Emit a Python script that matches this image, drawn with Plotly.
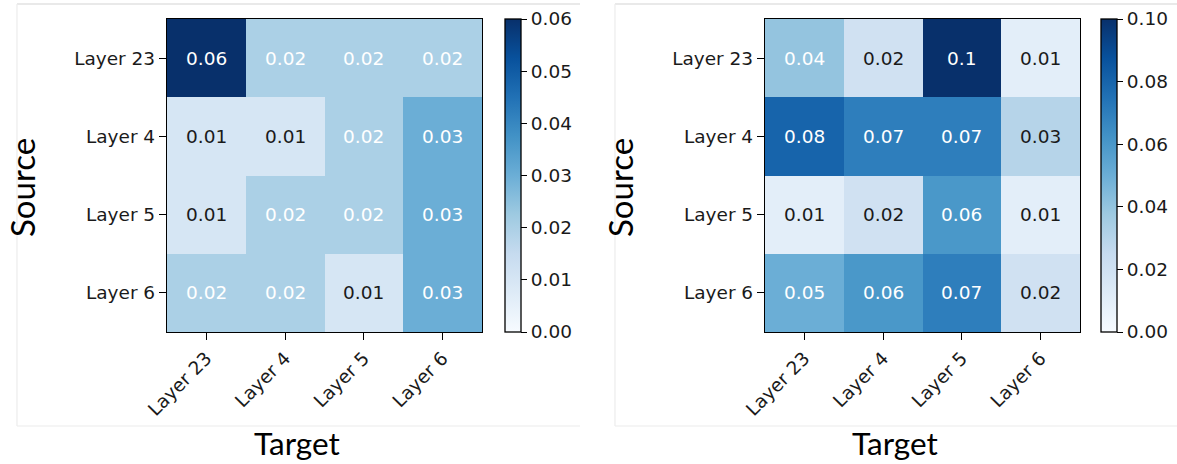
import plotly.graph_objects as go

# ---- data -------------------------------------------------------------
layers = ["Layer 23", "Layer 4", "Layer 5", "Layer 6"]

# rows = source layer, columns = target layer
left_values = [
    [0.06, 0.02, 0.02, 0.02],
    [0.01, 0.01, 0.02, 0.03],
    [0.01, 0.02, 0.02, 0.03],
    [0.02, 0.02, 0.01, 0.03],
]
right_values = [
    [0.04, 0.02, 0.10, 0.01],
    [0.08, 0.07, 0.07, 0.03],
    [0.01, 0.02, 0.06, 0.01],
    [0.05, 0.06, 0.07, 0.02],
]
left_cbar_ticks = [0.00, 0.01, 0.02, 0.03, 0.04, 0.05, 0.06]
right_cbar_ticks = [0.00, 0.02, 0.04, 0.06, 0.08, 0.10]
left_vmax = 0.06
right_vmax = 0.10

# ---- styling ----------------------------------------------------------
W, H = 1177, 464
BLUES = [
    [0.000, "rgb(247,251,255)"],
    [0.125, "rgb(222,235,247)"],
    [0.250, "rgb(198,219,239)"],
    [0.375, "rgb(158,202,225)"],
    [0.500, "rgb(107,174,214)"],
    [0.625, "rgb(66,146,198)"],
    [0.750, "rgb(33,113,181)"],
    [0.875, "rgb(8,81,156)"],
    [1.000, "rgb(8,48,107)"],
]
TICK_FONT = dict(family="DejaVu Sans", size=18.5, color="#1a1a1a")
TARGET_FONT = dict(family="Lato", size=31.5, color="#000000")
SOURCE_FONT = dict(family="Lato", size=33, color="#000000")


def px_x(p):
    return p / W


def px_y(p):
    return 1 - p / H


def fmt(v):
    # compact label like matplotlib's default str(round(v, 2))
    s = f"{v:.2f}".rstrip("0")
    return s if not s.endswith(".") else s + "0"


panels = [
    dict(values=left_values, vmax=left_vmax, ticks=left_cbar_ticks,
         x0=167, x1=482, cb_x=505, cb_w=16, xa="x", ya="y",
         title_x=297, source_x=22, frame=(17, 580)),
    dict(values=right_values, vmax=right_vmax, ticks=right_cbar_ticks,
         x0=765, x1=1080, cb_x=1101, cb_w=16, xa="x2", ya="y2",
         title_x=895, source_x=620, frame=(615, 1177)),
]

TOP, BOTTOM = 19, 332

fig = go.Figure()
annotations = []
shapes = []

for i, p in enumerate(panels):
    vals = p["values"]
    fig.add_trace(go.Heatmap(
        z=vals, x=layers, y=layers,
        colorscale=BLUES, zmin=0, zmax=p["vmax"],
        xaxis=p["xa"], yaxis=p["ya"],
        xgap=0, ygap=0, hoverinfo="skip",
        colorbar=dict(
            x=px_x(p["cb_x"]), xanchor="left", xpad=0, ypad=0,
            y=px_y(TOP), yanchor="top",
            len=BOTTOM - TOP, lenmode="pixels",
            thickness=p["cb_w"], thicknessmode="pixels",
            outlinewidth=1.3, outlinecolor="#000000",
            tickvals=p["ticks"], ticktext=[f"{t:.2f}" for t in p["ticks"]],
            ticks="outside", ticklen=6, tickwidth=1.2, tickcolor="#000000",
            tickfont=TICK_FONT,
        ),
    ))

    # cell annotations
    for r, row in enumerate(vals):
        for c, v in enumerate(row):
            color = "#ffffff" if v / p["vmax"] > 0.32 else "#1a1a1a"
            annotations.append(dict(
                x=layers[c], y=layers[r], xref=p["xa"], yref=p["ya"],
                text=fmt(v), showarrow=False,
                font=dict(family="DejaVu Sans", size=18.5, color=color),
            ))

    # axis titles
    annotations.append(dict(
        x=px_x(p["title_x"]), y=px_y(443), xref="paper", yref="paper",
        text="Target", showarrow=False, font=TARGET_FONT,
        xanchor="center", yanchor="middle",
    ))
    annotations.append(dict(
        x=px_x(p["source_x"]), y=px_y(188), xref="paper", yref="paper",
        text="Source", showarrow=False, font=SOURCE_FONT, textangle=-90,
        xanchor="center", yanchor="middle",
    ))

    # light panel frame
    fx0, fx1 = p["frame"]
    for (xa0, ya0, xa1, ya1, col) in [
        (fx0, 4, fx1, 4, "#d4d4d4"),
        (fx0, 426, fx1, 426, "#ececec"),
        (fx0, 4, fx0, 426, "#ececec"),
    ]:
        shapes.append(dict(
            type="line", xref="paper", yref="paper",
            x0=px_x(xa0), y0=px_y(ya0), x1=px_x(xa1), y1=px_y(ya1),
            line=dict(color=col, width=1.2),
        ))

axis_common = dict(
    showline=True, mirror=True, linecolor="#000000", linewidth=1.3,
    ticks="outside", ticklen=7, tickwidth=1.2, tickcolor="#000000",
    tickfont=TICK_FONT, showgrid=False, zeroline=False,
)

layout_axes = {}
for i, p in enumerate(panels):
    sx = "" if i == 0 else str(i + 1)
    layout_axes["xaxis" + sx] = dict(
        domain=[px_x(p["x0"]), px_x(p["x1"])], anchor="y" + sx,
        tickangle=-45, categoryorder="array", categoryarray=layers,
        **axis_common,
    )
    layout_axes["yaxis" + sx] = dict(
        domain=[px_y(BOTTOM), px_y(TOP)], anchor="x" + sx,
        autorange="reversed", categoryorder="array", categoryarray=layers,
        **axis_common,
    )

fig.update_layout(
    width=W, height=H,
    margin=dict(l=0, r=0, t=0, b=0, autoexpand=False),
    paper_bgcolor="#ffffff", plot_bgcolor="#ffffff",
    annotations=annotations, shapes=shapes,
    **layout_axes,
)

fig.write_html("out.html")
